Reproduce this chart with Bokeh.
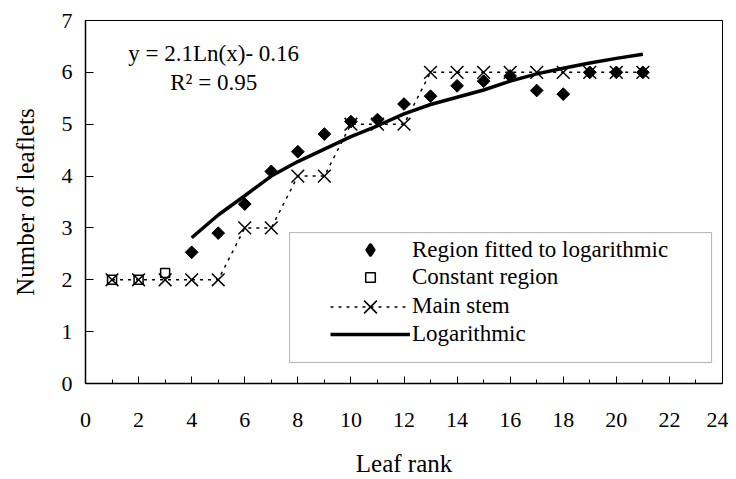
from bokeh.plotting import figure
from bokeh.models import Range1d, FixedTicker, Legend, LegendItem, Label, BoxAnnotation
from bokeh.embed import file_html
from bokeh.resources import INLINE
import numpy as np

# Data
stem_x = list(range(1, 22))
stem_y = [2, 2, 2, 2, 2, 3, 3, 4, 4, 5, 5, 5, 6, 6, 6, 6, 6, 6, 6, 6, 6]

const_x = [1, 2, 3]
const_y = [2.0, 2.0, 2.13]

fit_x = list(range(4, 22))
fit_y = [2.53, 2.90, 3.46, 4.09, 4.47, 4.81, 5.05, 5.09, 5.39, 5.54, 5.74,
         5.83, 5.93, 5.65, 5.58, 6.0, 6.0, 6.0]

log_x = list(range(4, 22))
log_y = [2.81, 3.25, 3.62, 4.00, 4.28, 4.52, 4.76, 4.97, 5.20, 5.38, 5.52,
         5.66, 5.83, 5.97, 6.08, 6.18, 6.27, 6.35]

x_ticks = list(range(0, 25, 2))
x_minor = list(range(0, 25))
y_ticks = list(range(0, 8))

legend_labels = ["Region fitted to logarithmic", "Constant region", "Main stem", "Logarithmic"]

FONT = "Liberation Serif"

p = figure(width=728, height=479, x_range=Range1d(0, 24), y_range=Range1d(0, 7),
           output_backend="svg", toolbar_location=None,
           min_border_left=85, min_border_right=6, min_border_top=20,
           min_border_bottom=88)
p.xgrid.grid_line_color = None
p.ygrid.grid_line_color = None
p.outline_line_color = "black"
p.outline_line_width = 1
p.background_fill_color = "white"

p.xaxis.ticker = FixedTicker(ticks=x_ticks, minor_ticks=x_minor)
p.yaxis.ticker = FixedTicker(ticks=y_ticks, minor_ticks=[])
for ax in (p.xaxis, p.yaxis):
    ax.axis_line_color = "black"
    ax.axis_line_width = 1.5
    ax.major_tick_line_color = "black"
    ax.major_tick_line_width = 1
    ax.minor_tick_line_color = "black"
    ax.major_tick_out = 0
    ax.minor_tick_out = 0
    ax.major_label_text_font = FONT
    ax.major_label_text_font_size = "22px"
    ax.major_label_text_color = "black"
    ax.axis_label_text_font = FONT
    ax.axis_label_text_font_size = "25px"
    ax.axis_label_text_font_style = "normal"
    ax.axis_label_text_color = "black"

p.xaxis.major_tick_in = 7
p.xaxis.minor_tick_in = 4
p.xaxis.major_label_standoff = 29
p.xaxis.axis_label = "Leaf rank"
p.xaxis.axis_label_standoff = 20

p.yaxis.major_tick_in = 8
p.yaxis.minor_tick_in = 0
p.yaxis.major_label_standoff = 13
p.yaxis.axis_label = "Number of leaflets"
p.yaxis.axis_label_standoff = 20

# Glyphs
stem_line = p.line(stem_x, stem_y, line_color="black", line_width=1.5, line_dash="3 5")
stem_pts = p.scatter(stem_x, stem_y, marker="x", size=18, line_color="black", line_width=1.5)
const_pts = p.scatter(const_x, const_y, marker="square", size=9, fill_color=None,
                      line_color="black", line_width=1.5)
fit_key = p.scatter(fit_x, fit_y, marker="diamond", size=2, line_width=3.5,
                    line_join="round", fill_color="black", line_color="black")
p.rect(fit_x, fit_y, width=9, height=9, width_units="screen", height_units="screen",
       angle=np.pi / 4, fill_color="black", line_color="black")
log_line = p.line(log_x, log_y, line_color="black", line_width=3.5)

# Legend border
box = BoxAnnotation(left=7.69, right=23.59, bottom=0.405, top=2.91,
                    fill_alpha=0, line_color="black", line_width=1)
p.add_layout(box)

# One legend per row so that each key can have its own marker size
rows = [
    (legend_labels[0], [fit_key], 25, 133),
    (legend_labels[1], [const_pts], 24, 105),
    (legend_labels[2], [stem_line, stem_pts], 45, 77),
    (legend_labels[3], [log_line], 28, 49),
]
for lab, rends, gh, cy in rows:
    lg = Legend(items=[LegendItem(label=lab, renderers=rends)],
                location=(245, cy - gh / 2), padding=0, margin=0, spacing=0,
                glyph_width=80, glyph_height=gh, label_height=gh, label_standoff=2,
                label_text_font=FONT, label_text_font_size="23px",
                label_text_color="black", border_line_alpha=0,
                background_fill_alpha=0)
    p.add_layout(lg)

p.add_layout(Label(x=4.83, y=6.36, text="y = 2.1Ln(x)- 0.16", text_align="center",
                   text_baseline="middle", text_font=FONT, text_font_size="23px",
                   text_color="black"))
p.add_layout(Label(x=4.83, y=5.80, text="R\u00b2 = 0.95", text_align="center",
                   text_baseline="middle", text_font=FONT, text_font_size="23px",
                   text_color="black"))

open("out.html", "w").write(file_html(p, INLINE))
